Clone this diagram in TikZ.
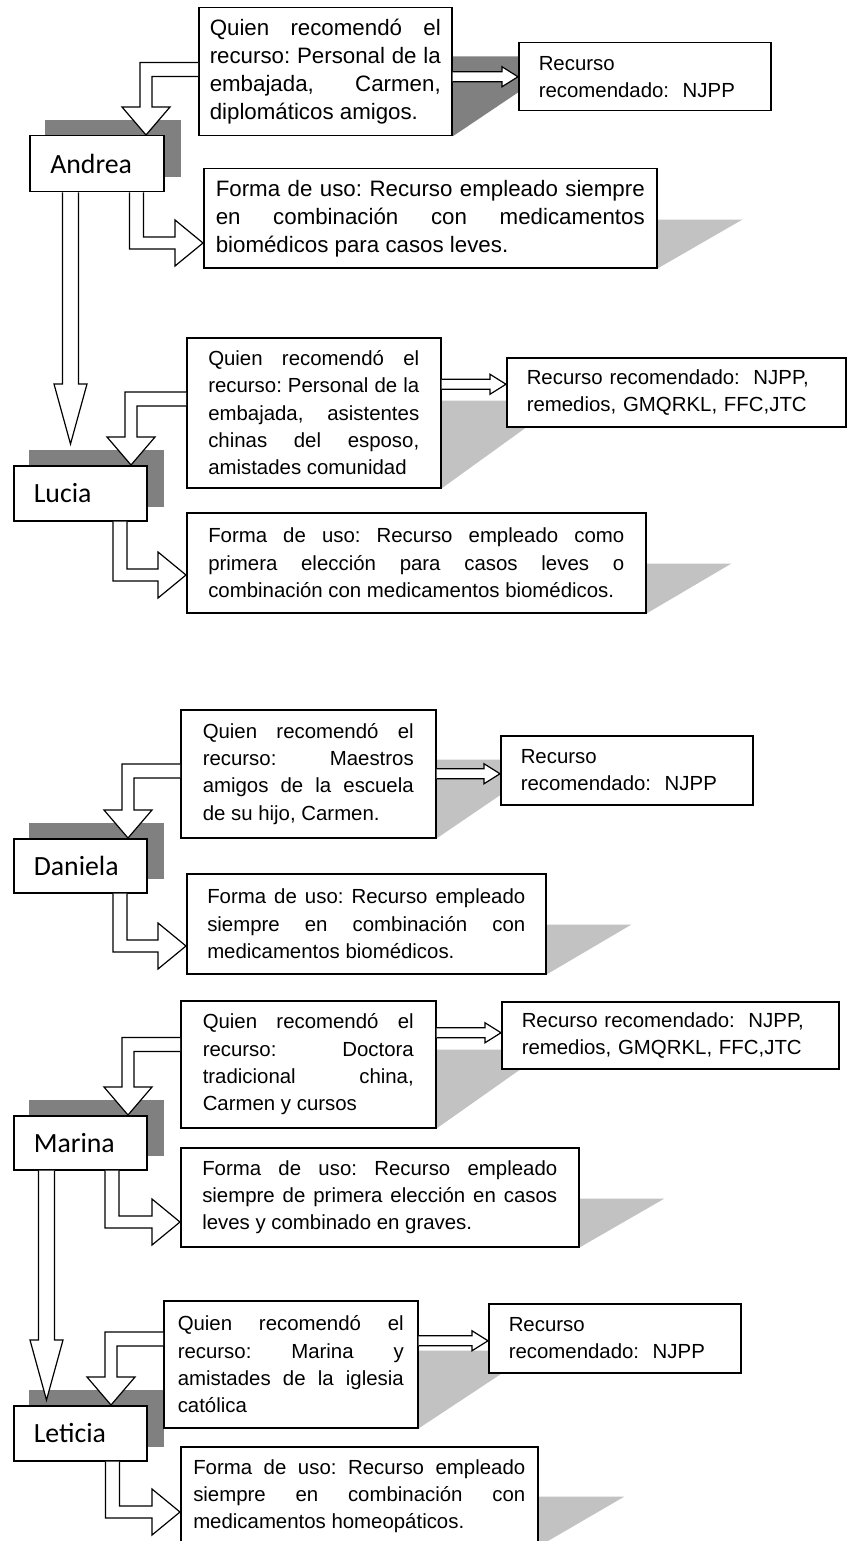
\documentclass[tikz,border=0pt]{standalone}
\usepackage{fontspec}
\setmainfont{Liberation Sans}
\newfontfamily\namefont{Carlito}
\usetikzlibrary{calc,backgrounds}
\tolerance=10000
\hyphenpenalty=10000
\frenchspacing

\definecolor{darkshade}{gray}{0.5}
\definecolor{lightshade}{gray}{0.76}

\newcommand{\smalltxt}{\fontsize{20.4}{27.3}\selectfont}
\newcommand{\bigtxt}{\fontsize{22.3}{28}\selectfont}

% rec box -> name box
\newcommand{\bentdown}[2]{%
\filldraw [blockarrow] let \p1=(#1), \p2=(#2) in
  (\x1,\y1+7pt) -| (\x2-6pt,\y2+28pt) -- (\x2-24pt,\y2+28pt) -- (\p2)
  -- (\x2+24pt,\y2+28pt) -- (\x2+6pt,\y2+28pt) |- (\x1,\y1-7pt);}

% name box -> use box
\newcommand{\bentright}[2]{%
\filldraw [blockarrow] let \p1=(#1), \p2=(#2) in
  (\x1-7pt,\y1) |- (\x2-28pt,\y2-6pt) -- (\x2-28pt,\y2-23pt) -- (\p2)
  -- (\x2-28pt,\y2+23pt) -- (\x2-28pt,\y2+6pt) -| (\x1+7pt,\y1);}

% name box -> next name box
\newcommand{\longdown}[2]{%
\filldraw [blockarrow] let \p1=(#1), \p2=(#2) in
  (\x1-8pt,\y1) -- (\x1-8pt,\y2+60pt) -- (\x1-16.5pt,\y2+60pt) -- (\x1,\y2)
  -- (\x1+16.5pt,\y2+60pt) -- (\x1+8pt,\y2+60pt) -- (\x1+8pt,\y1);}

% rec box -> resource box
\newcommand{\thinright}[2]{%
\filldraw [blockarrow] let \p1=(#1), \p2=(#2) in
  (\x1,\y2+5pt) -- (\x2-16pt,\y2+5pt) -- (\x2-16pt,\y2+10pt) -- (\p2)
  -- (\x2-16pt,\y2-10pt) -- (\x2-16pt,\y2-5pt) -- (\x1,\y2-5pt);}

\newcommand{\castshadow}[4]{%
\fill [#4] (#1.south east) -- ++(0,-#2) -- ++(#3,0) -- cycle;}
\newcommand{\nameshadow}[1]{%
\fill [darkshade] ($(#1.north west)+(16,-15)$) rectangle ($(#1.south east)+(16,-15)$);}

\begin{document}
\begin{tikzpicture}[x=1pt,y=-1pt,
  box/.style={draw, fill=white, line width=1.5pt, anchor=north west, inner sep=0pt, font=\smalltxt},
  recbox/.style={box, align=justify},
  resbox/.style={box, align=left},
  namebox/.style={box, align=left, font=\namefont\fontsize{27.8}{30}\selectfont, text width=93pt, minimum width=133pt},
  blockarrow/.style={fill=white, draw=black, line width=1.2pt, line join=miter}]

\useasboundingbox (0,0) rectangle (846,1541);

% Andrea
\node [namebox, minimum width=134pt, minimum height=56pt] (name1) at (29,135) {Andrea};
\node [recbox, font=\bigtxt, text width=231pt, minimum width=253pt, minimum height=128pt] (rec1) at (198,7)
{Quien recomendó el\linebreak recurso: Personal de la\linebreak embajada, Carmen,\linebreak diplomáticos amigos.};
\node [resbox, text width=212pt, minimum width=252pt, minimum height=68pt] (res1) at (518,42)
{Recurso\\recomendado:\ \ NJPP};
\node [recbox, font=\bigtxt, text width=429pt, minimum width=453pt, minimum height=99pt] (use1) at (203,168)
{Forma de uso: Recurso empleado siempre\linebreak en combinación con medicamentos\linebreak biomédicos para casos leves.};

% Lucia
\node [namebox, minimum height=55pt] (name2) at (13,465) {Lucia};
\node [recbox, text width=211pt, minimum width=254pt, minimum height=150pt] (rec2) at (186,337)
{Quien recomendó el\linebreak recurso: Personal de la\linebreak embajada, asistentes\linebreak chinas del esposo,\linebreak amistades comunidad};
\node [resbox, text width=299pt, minimum width=339pt, minimum height=69pt] (res2) at (506,357)
{Recurso recomendado:\ \ NJPP,\\remedios, GMQRKL, FFC,JTC};
\node [recbox, text width=416pt, minimum width=459pt, minimum height=100pt] (use2) at (186,512)
{Forma de uso: Recurso empleado como\linebreak primera elección para casos leves o\linebreak combinación con medicamentos biomédicos.};

% Daniela
\node [namebox, minimum height=54pt] (name3) at (13,838) {Daniela};
\node [recbox, text width=211pt, minimum width=255pt, minimum height=128pt] (rec3) at (180,709)
{Quien recomendó el\linebreak recurso: Maestros\linebreak amigos de la escuela\linebreak de su hijo, Carmen.};
\node [resbox, text width=212pt, minimum width=252pt, minimum height=69pt] (res3) at (500,735)
{Recurso\\recomendado:\ \ NJPP};
\node [recbox, text width=318pt, minimum width=359pt, minimum height=100pt] (use3) at (186,873)
{Forma de uso: Recurso empleado\linebreak siempre en combinación con\linebreak medicamentos biomédicos.};

% Marina
\node [namebox, minimum height=54pt] (name4) at (13,1115) {Marina};
\node [recbox, text width=211pt, minimum width=255pt, minimum height=127pt] (rec4) at (180,1000)
{Quien recomendó el\linebreak recurso: Doctora\linebreak tradicional china,\linebreak Carmen y cursos};
\node [resbox, text width=297pt, minimum width=337pt, minimum height=67pt] (res4) at (501,1001)
{Recurso recomendado:\ \ NJPP,\\remedios, GMQRKL, FFC,JTC};
\node [recbox, text width=355pt, minimum width=398pt, minimum height=99pt] (use4) at (180,1147)
{Forma de uso: Recurso empleado\linebreak siempre de primera elección en casos\linebreak leves y combinado en graves.};

% Leticia
\node [namebox, minimum height=55pt] (name5) at (13,1405) {Leticia};
\node [recbox, text width=226pt, minimum width=254pt, minimum height=127pt] (rec5) at (163,1300)
{Quien recomendó el\linebreak recurso: Marina y\linebreak amistades de la iglesia\linebreak católica};
\node [resbox, text width=212pt, minimum width=252pt, minimum height=69pt] (res5) at (488,1303)
{Recurso\\recomendado:\ \ NJPP};
\node [recbox, text width=332pt, minimum width=357pt, minimum height=99pt] (use5) at (180,1446)
{Forma de uso: Recurso empleado\linebreak siempre en combinación con\linebreak medicamentos homeopáticos.};

\bentdown{$(rec1.north west)+(0,62.5)$}{$(name1.north west)+(117,0)$}
\bentright{$(name1.south west)+(107.5,0)$}{$(use1.north west)+(0,75)$}
\thinright{rec1.east}{res1.west}
\longdown{$(name1.south west)+(41.5,0)$}{$(name2.north west)+(0,-21)$}

\bentdown{$(rec2.north west)+(0,62)$}{$(name2.north west)+(118,0)$}
\bentright{$(name2.south west)+(107,0)$}{$(use2.north west)+(0,63)$}
\thinright{rec2.east}{$(res2.west)+(0,-8)$}

\bentdown{$(rec3.north west)+(0,62)$}{$(name3.north west)+(115,0)$}
\bentright{$(name3.south west)+(107,0)$}{$(use3.north west)+(0,73)$}
\thinright{rec3.east}{$(res3.west)+(0,3.5)$}

\bentdown{$(rec4.north west)+(0,44.5)$}{$(name4.north west)+(115,0)$}
\bentright{$(name4.south west)+(99,0)$}{$(use4.north west)+(0,75)$}
\thinright{rec4.east}{$(res4.west)+(0,-2.5)$}
\longdown{$(name4.south west)+(33.5,0)$}{$(name5.north west)+(0,-5)$}

\bentdown{$(rec5.north west)+(0,39)$}{$(name5.north west)+(98,0)$}
\bentright{$(name5.south west)+(99.5,0)$}{$(use5.north west)+(0,66)$}
\thinright{rec5.east}{$(res5.west)+(0,2.5)$}

\begin{pgfonlayer}{background}
\nameshadow{name1}
\nameshadow{name2}
\nameshadow{name3}
\nameshadow{name4}
\nameshadow{name5}
\castshadow{rec1}{80}{119}{darkshade}
\castshadow{use1}{49}{85}{lightshade}
\castshadow{rec2}{88}{122}{lightshade}
\castshadow{use2}{50}{85}{lightshade}
\castshadow{rec3}{79}{116}{lightshade}
\castshadow{use3}{50}{85}{lightshade}
\castshadow{rec4}{79}{112}{lightshade}
\castshadow{use4}{49}{85}{lightshade}
\castshadow{rec5}{78}{118}{lightshade}
\castshadow{use5}{50}{86}{lightshade}
\end{pgfonlayer}

\end{tikzpicture}
\end{document}
